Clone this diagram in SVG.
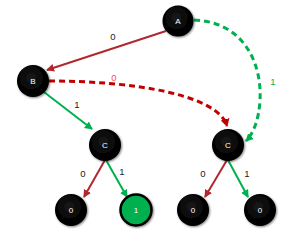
<svg xmlns="http://www.w3.org/2000/svg" width="300" height="233" viewBox="0 0 300 233">
<defs>
<radialGradient id="g" cx="45%" cy="40%" r="60%">
<stop offset="0" stop-color="#1a1a1a"/>
<stop offset="0.8" stop-color="#000"/>
<stop offset="1" stop-color="#000"/>
</radialGradient>
<filter id="sh" x="-30%" y="-30%" width="160%" height="160%">
<feGaussianBlur in="SourceAlpha" stdDeviation="1.2"/>
<feOffset dx="0.5" dy="1" result="b"/>
<feComponentTransfer><feFuncA type="linear" slope="0.5"/></feComponentTransfer>
<feMerge><feMergeNode/><feMergeNode in="SourceGraphic"/></feMerge>
</filter>
<marker id="ar" markerWidth="9" markerHeight="9" refX="7" refY="4" orient="auto" markerUnits="userSpaceOnUse"><path d="M0,0 L8,4 L0,8 Z" fill="#b0282e"/></marker>
<marker id="ag" markerWidth="9" markerHeight="9" refX="7" refY="4" orient="auto" markerUnits="userSpaceOnUse"><path d="M0,0 L8,4 L0,8 Z" fill="#00b050"/></marker>
<marker id="ard" markerWidth="9" markerHeight="9" refX="7" refY="4.5" orient="auto" markerUnits="userSpaceOnUse"><path d="M0,0 L8,4.5 L0,9 Z" fill="#c00000"/></marker>
</defs>
<style>
.n{fill:url(#g);filter:url(#sh)}
.t{font-family:"Liberation Sans",Arial,sans-serif;font-size:8px;fill:#fff;text-anchor:middle}
.l{font-family:"Liberation Sans",Arial,sans-serif;font-size:9.5px;fill:#222;text-anchor:middle}
.r{stroke:#b0282e;stroke-width:2;fill:none;marker-end:url(#ar)}
.gr{stroke:#00b050;stroke-width:2;fill:none;marker-end:url(#ag)}
.rd{stroke:#c00000;stroke-width:3;fill:none;stroke-dasharray:6 4;marker-end:url(#ard)}
.gd{stroke:#00b050;stroke-width:3;fill:none;stroke-dasharray:6 4;marker-end:url(#ag)}
</style>
<g id="connectors">
<path class="r" d="M166,31 L47,70"/>
<path class="rd" d="M49,81 C135,81 218,95 227,126"/>
<path class="gd" d="M194,20 C245,22 262,65 260,100 C259,120 253,134 246,141"/>
<path class="gr" d="M44,92 L92,129"/>
<path class="r" d="M105,160 L84,197"/>
<path class="gr" d="M106,160 L127,197"/>
<path class="r" d="M227,160 L205,197"/>
<path class="gr" d="M228,160 L248,197"/>
<text class="l" x="113" y="40">0</text>
<text class="l" x="114" y="81" style="fill:#ff5050">0</text>
<text class="l" x="273" y="85" style="fill:#00b050">1</text>
<text class="l" x="77" y="108">1</text>
<text class="l" x="83" y="177">0</text>
<text class="l" x="122" y="175">1</text>
<text class="l" x="203" y="177">0</text>
<text class="l" x="247" y="177">1</text>
</g>
<g id="A"><circle class="n" cx="178" cy="21" r="15.5"/><text class="t" x="178" y="24">A</text></g>
<g id="B"><circle class="n" cx="33" cy="81" r="16"/><text class="t" x="33" y="84">B</text></g>
<g id="C1"><circle class="n" cx="105" cy="145" r="16"/><text class="t" x="105" y="148">C</text></g>
<g id="C2"><circle class="n" cx="228" cy="145" r="16"/><text class="t" x="228" y="148">C</text></g>
<g id="L0a"><circle class="n" cx="71" cy="210" r="16"/><text class="t" x="71" y="213">0</text></g>
<g id="L1"><circle cx="136" cy="210" r="15.5" fill="#00b050" stroke="#000" stroke-width="2.5" filter="url(#sh)"/><text class="t" x="136" y="213">1</text></g>
<g id="L0b"><circle class="n" cx="193" cy="210" r="16"/><text class="t" x="193" y="213">0</text></g>
<g id="L0c"><circle class="n" cx="260" cy="210" r="16"/><text class="t" x="260" y="213">0</text></g>
</svg>
